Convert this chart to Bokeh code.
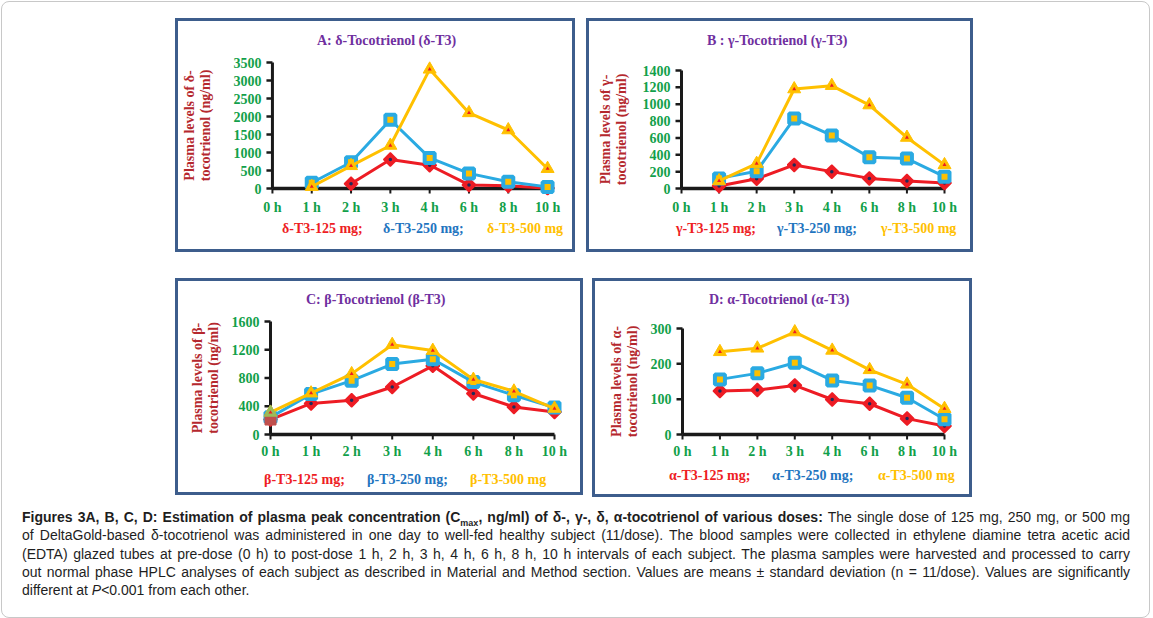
import numpy as np
from bokeh.plotting import figure
from bokeh.models import Range1d, FixedTicker, Spacer, Div, Row, Column
from bokeh.embed import file_html
from bokeh.resources import INLINE

nan = float("nan")

# ---------------- data ----------------
hours = ["0 h", "1 h", "2 h", "3 h", "4 h", "6 h", "8 h", "10 h"]

delta_125 = [nan, nan, 130, 805, 645, 100, 75, 10]
delta_250 = [nan, 160, 730, 1910, 850, 420, 190, 45]
delta_500 = [nan, 50, 630, 1195, 3310, 2100, 1625, 550]
delta_yticks = [0, 500, 1000, 1500, 2000, 2500, 3000, 3500]

gamma_125 = [nan, 30, 115, 280, 200, 120, 90, 65]
gamma_250 = [nan, 120, 205, 830, 630, 370, 355, 140]
gamma_500 = [nan, 90, 295, 1180, 1220, 990, 605, 280]
gamma_yticks = [0, 200, 400, 600, 800, 1000, 1200, 1400]

beta_125 = [212, 440, 485, 672, 972, 580, 390, 320]
beta_250 = [245, 572, 762, 998, 1065, 742, 556, 382]
beta_500 = [312, 585, 858, 1272, 1188, 778, 612, 368]
beta_yticks = [0, 400, 800, 1200, 1600]

alpha_125 = [nan, 123, 126, 139, 99, 87, 45, 24]
alpha_250 = [nan, 156, 173, 203, 153, 139, 104, 43]
alpha_500 = [nan, 234, 244, 290, 238, 183, 142, 73]
alpha_yticks = [0, 100, 200, 300]

titles = ["A: δ-Tocotrienol (δ-T3)", "B : γ-Tocotrienol (γ-T3)",
          "C: β-Tocotrienol (β-T3)", "D: α-Tocotrienol (α-T3)"]
ylabels = ["Plasma levels of δ-\ntocotrienol (ng/ml)",
           "Plasma levels of γ-\ntocotrienol (ng/ml)",
           "Plasma levels of β-\ntocotrienol (ng/ml)",
           "Plasma levels of α-\ntocotrienol (ng/ml)"]
legends = [("δ-T3-125 mg;", "δ-T3-250 mg;", "δ-T3-500 mg"),
           ("γ-T3-125 mg;", "γ-T3-250 mg;", "γ-T3-500 mg"),
           ("β-T3-125 mg;", "β-T3-250 mg;", "β-T3-500 mg"),
           ("α-T3-125 mg;", "α-T3-250 mg;", "α-T3-500 mg")]

caption_lines = [
    '<b>Figures 3A, B, C, D: Estimation of plasma peak concentration (C<sub style="font-size:9px;line-height:0">max</sub>, ng/ml) of δ-, γ-, δ, α-tocotrienol of various doses:</b> The single dose of 125 mg, 250 mg, or 500 mg',
    'of DeltaGold-based δ-tocotrienol was administered in one day to well-fed healthy subject (11/dose). The blood samples were collected in ethylene diamine tetra acetic acid',
    '(EDTA) glazed tubes at pre-dose (0 h) to post-dose 1 h, 2 h, 3 h, 4 h, 6 h, 8 h, 10 h intervals of each subject. The plasma samples were harvested and processed to carry',
    'out normal phase HPLC analyses of each subject as described in Material and Method section. Values are means ± standard deviation (n = 11/dose). Values are significantly',
    'different at <i>P</i>&lt;0.001 from each other.',
]

# ---------------- styles ----------------
SERIF = "Liberation Serif"
GREEN = "#12a04a"
YLAB = "#b5282e"
PURPLE = "#7030a0"
RED = "#ed1c24"
BLUE = "#2aaae2"
YELLOW = "#ffc000"
LEG_COLORS = ["#ee1d24", "#1f75bf", "#ffc000"]
NAVY = "#1f2a5a"
AXIS = "#1a1a1a"
BOX = "#3d5d8c"
BW = 3  # panel border width

# layout geometry (page pixels) for each panel
specs = [
    dict(box=(176, 19, 400, 234), x0=271, x7=548, y0=189, ytop=63,
         title_left=318, title_cy=40, ylab_line2=207, tick_right=260, xlab_y=208,
         leg_y=228, leg_x=(283, 384, 488)),
    dict(box=(587, 19, 387, 234), x0=682, x7=945, y0=189, ytop=71,
         title_left=708, title_cy=40, ylab_line2=625, tick_right=671, xlab_y=208,
         leg_y=228, leg_x=(677, 778, 882)),
    dict(box=(176, 279, 408, 217), x0=271, x7=555, y0=435, ytop=322,
         title_left=307, title_cy=299, ylab_line2=217, tick_right=260, xlab_y=452,
         leg_y=479, leg_x=(265, 368, 471)),
    dict(box=(593, 279, 380, 219), x0=683, x7=945, y0=435, ytop=329,
         title_left=710, title_cy=299, ylab_line2=636, tick_right=672, xlab_y=452,
         leg_y=475, leg_x=(670, 773, 879)),
]

panel_series = [
    (delta_125, delta_250, delta_500, delta_yticks),
    (gamma_125, gamma_250, gamma_500, gamma_yticks),
    (beta_125, beta_250, beta_500, beta_yticks),
    (alpha_125, alpha_250, alpha_500, alpha_yticks),
]

FONT_PX = 14
LINE_H = 1.05


def text_strip(items, width, height, top_of_strip, left_of_strip):
    """HTML strip with absolutely placed coloured texts: (text, page_x, page_cy, color)."""
    spans = "".join(
        f'<span style="position:absolute;left:{x - left_of_strip}px;'
        f'top:{cy - top_of_strip - 7}px;line-height:18px;white-space:nowrap;'
        f'color:{c};">{t}</span>'
        for t, x, cy, c in items)
    return Div(text=f'<div style="position:absolute;left:0;top:0;width:{width}px;'
                    f'height:{height}px;overflow:hidden;'
                    f'font-family:\'{SERIF}\',serif;font-weight:bold;font-size:14px;">'
                    f'{spans}</div>',
               width=width, height=height, margin=0,
               styles={"width": f"{width}px", "height": f"{height}px",
                       "overflow": "hidden", "position": "relative"})


def make_panel(i):
    s = specs[i]
    s125, s250, s500, yticks = panel_series[i]
    L, T, W, H = s["box"]
    cl, ct = L + BW, T + BW            # inner top-left on page
    cw = W - 2 * BW
    title_h = s["title_cy"] + 12 - ct
    fig_top = ct + title_h
    y_split = s["xlab_y"] + 13         # figure bottom / legend strip top
    ch = y_split - fig_top
    n = len(hours) - 1
    ymax = yticks[-1]
    ux = (s["x7"] - s["x0"]) / n
    uy = (s["y0"] - s["ytop"]) / ymax
    fl, fr = s["x0"] - 9, s["x7"] + 12
    ft, fb = s["ytop"] - 7, s["y0"] + 7
    p = figure(width=cw, height=ch, output_backend="svg", toolbar_location=None,
               title=None,
               x_range=Range1d((fl - s["x0"]) / ux, (fr - s["x0"]) / ux),
               y_range=Range1d(-(fb - s["y0"]) / uy, (s["y0"] - ft) / uy),
               min_border_left=fl - cl, min_border_right=cl + cw - fr,
               min_border_top=ft - fig_top, min_border_bottom=y_split - fb,
               background_fill_color="white", border_fill_color="white")
    p.outline_line_color = None
    p.xgrid.visible = False
    p.ygrid.visible = False

    xs = list(range(len(hours)))
    p.xaxis.ticker = FixedTicker(ticks=xs)
    p.xaxis.major_label_overrides = {k: h for k, h in enumerate(hours)}
    p.yaxis.ticker = FixedTicker(ticks=yticks)
    for ax in (p.xaxis, p.yaxis):
        ax.axis_line_color = None
        ax.major_tick_line_color = None
        ax.minor_tick_line_color = None
        ax.major_tick_out = 0
        ax.major_tick_in = 0
        ax.minor_tick_out = 0
        ax.minor_tick_in = 0
        ax.major_label_text_font = SERIF
        ax.major_label_text_font_style = "bold"
        ax.major_label_text_font_size = "14px"
        ax.major_label_text_color = GREEN
    p.yaxis.major_label_standoff = fl - s["tick_right"]
    p.xaxis.major_label_standoff = max(0, int(round(s["xlab_y"] - fb - 8)))

    # two-line y axis label
    tick_w = 0.5 * FONT_PX * len(str(ymax))
    block_right = s["ylab_line2"] + FONT_PX * LINE_H / 2
    p.yaxis.axis_label = ylabels[i]
    p.yaxis.axis_label_text_font = SERIF
    p.yaxis.axis_label_text_font_style = "bold"
    p.yaxis.axis_label_text_font_size = "14px"
    p.yaxis.axis_label_text_color = YLAB
    p.yaxis.axis_label_text_line_height = LINE_H
    p.yaxis.axis_label_standoff = max(0, int(round(
        s["tick_right"] - tick_w - block_right)))

    # axis lines and tick stubs
    p.segment(x0=[0], y0=[0], x1=[0], y1=[ymax], line_color=AXIS, line_width=3)
    p.segment(x0=[0], y0=[0], x1=[n], y1=[0], line_color=AXIS, line_width=3.5)
    p.ray(x=[0] * len(yticks), y=yticks, length=6, length_units="screen",
          angle=np.pi, line_color=AXIS, line_width=2.5)
    p.ray(x=xs, y=[0] * len(xs), length=5, length_units="screen",
          angle=-np.pi / 2, line_color=AXIS, line_width=2)

    a125 = np.array(s125, dtype=float)
    a250 = np.array(s250, dtype=float)
    a500 = np.array(s500, dtype=float)

    p.line(xs, a125, line_color=RED, line_width=3)
    p.scatter(xs, a125, marker="square", angle=np.pi / 4, size=9.5,
              fill_color=RED, line_color=RED, line_width=1.5)
    p.scatter(xs, a125, marker="circle", size=3.5, fill_color=NAVY, line_color=None)

    p.line(xs, a250, line_color=BLUE, line_width=3)
    p.scatter(xs, a250, marker="square", size=10, fill_color=YELLOW,
              line_color=BLUE, line_width=4)

    p.line(xs, a500, line_color=YELLOW, line_width=3)
    p.scatter(xs, a500, marker="triangle", size=13, fill_color=YELLOW, line_color=YELLOW)
    p.scatter(xs, a500, marker="triangle", size=4, fill_color=RED, line_color=None)

    if i == 2:
        # first-point markers shown with default spreadsheet colours
        p.scatter(xs[:1], a125[:1], marker="square", size=11, fill_color="#c0504d",
                  line_color="#c0504d")
        p.scatter(xs[:1], a500[:1], marker="triangle", size=13, fill_color="#9bbb59",
                  line_color="#9bbb59")
        p.scatter(xs[:1], a500[:1], marker="triangle", size=4, fill_color=RED,
                  line_color=None)

    title_div = text_strip([(titles[i], s["title_left"], s["title_cy"], PURPLE)],
                           cw, title_h, ct, cl)
    strip_h = (T + H - BW) - y_split
    leg_div = text_strip([(legends[i][k], s["leg_x"][k], s["leg_y"], LEG_COLORS[k])
                          for k in range(3)], cw, strip_h, y_split, cl)
    return Column(children=[title_div, p, leg_div], width=W, height=H,
                  styles={"border": f"{BW}px solid {BOX}", "box-sizing": "border-box",
                          "background": "white", "overflow": "hidden"})


panels = [make_panel(i) for i in range(4)]

line_style = ("height:18.3px;line-height:18.3px;white-space:nowrap;"
              "text-align:justify;text-align-last:justify;")
last_style = "height:18.3px;line-height:18.3px;white-space:nowrap;text-align:left;"
html = "".join(
    f'<div style="{line_style if k < len(caption_lines) - 1 else last_style}">{t}</div>'
    for k, t in enumerate(caption_lines))
caption = Div(text=f'<div style="font-family:\'Liberation Sans\',Arial,sans-serif;'
                   f'font-size:14px;color:#1e1e1e;width:1108px;">{html}</div>',
              width=1108, height=95, margin=0)

ORIG = 3
root = Column(
    children=[
        Spacer(width=1147, height=19 - ORIG),
        Row(children=[Spacer(width=176 - ORIG, height=10), panels[0],
                      Spacer(width=587 - 576, height=10), panels[1]]),
        Spacer(width=10, height=279 - 253),
        Row(children=[Spacer(width=176 - ORIG, height=10), panels[2],
                      Spacer(width=593 - 584, height=10), panels[3]]),
        Spacer(width=10, height=509 - 498),
        Row(children=[Spacer(width=23 - ORIG, height=10), caption]),
        Spacer(width=10, height=14),
    ],
    styles={"position": "relative", "left": "2px", "top": "2px",
            "outline": "1px solid #c8c8c8", "border-radius": "7px"},
)

open("out.html", "w").write(file_html(root, INLINE))
